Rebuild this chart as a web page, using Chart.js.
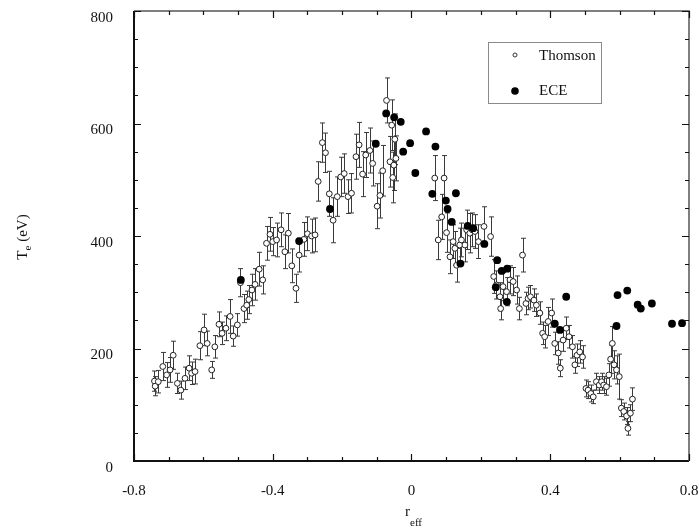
<!DOCTYPE html>
<html>
<head>
<meta charset="utf-8">
<script src="https://cdn.jsdelivr.net/npm/chart.js@4/dist/chart.umd.min.js"></script>
<style>
  html, body { margin: 0; padding: 0; background: #fff; }
  #wrap { width: 699px; height: 529px; }
</style>
</head>
<body>
<div id="wrap"><canvas id="te" width="699" height="529"></canvas></div>
<script>
// Thomson scattering profile: r_eff, Te (eV), error half-width (eV)
const thomsonR = [
  -0.741, -0.739, -0.730, -0.717, -0.706, -0.696, -0.687, -0.675, -0.665, -0.653,
  -0.641, -0.634, -0.624, -0.610, -0.598, -0.589, -0.576, -0.567, -0.555, -0.546,
  -0.535, -0.523, -0.514, -0.502, -0.493, -0.483, -0.475, -0.469, -0.460, -0.451,
  -0.439, -0.429, -0.418, -0.408, -0.400, -0.389, -0.376, -0.365, -0.355, -0.345,
  -0.333, -0.324, -0.310, -0.300, -0.288, -0.278, -0.269, -0.257, -0.248, -0.237,
  -0.226, -0.214, -0.204, -0.194, -0.183, -0.173, -0.160, -0.151, -0.141, -0.132,
  -0.120, -0.112, -0.099, -0.091, -0.083, -0.072, -0.062, -0.057, -0.054, -0.051,
  -0.048, -0.045,
  0.067, 0.077, 0.087, 0.094, 0.101, 0.111, 0.120, 0.125, 0.130, 0.139,
  0.144, 0.154, 0.159, 0.168, 0.175, 0.183, 0.193, 0.209, 0.228, 0.237,
  0.245, 0.255, 0.257, 0.264, 0.274, 0.284, 0.293, 0.303, 0.311, 0.320,
  0.330, 0.336, 0.343, 0.353, 0.360, 0.370, 0.378, 0.384, 0.394, 0.404,
  0.413, 0.423, 0.429, 0.437, 0.446, 0.454, 0.464, 0.471, 0.477, 0.485,
  0.493, 0.503, 0.509, 0.517, 0.524, 0.533, 0.541, 0.548, 0.554, 0.562,
  0.569, 0.574, 0.579, 0.584, 0.591, 0.599, 0.605, 0.612, 0.620, 0.624,
  0.631, 0.637
];
const thomsonTe = [
  142, 133, 141, 168, 153, 162, 188, 138, 126, 147,
  165, 156, 159, 205, 233, 209, 162, 203, 243, 227,
  236, 257, 222, 242, 317, 271, 277, 287, 304, 314,
  341, 322, 387, 403, 390, 393, 411, 372, 405, 347,
  307, 366, 394, 404, 400, 402, 497, 566, 548, 475,
  428, 470, 505, 511, 470, 476, 541, 562, 510, 544,
  552, 529, 453, 472, 516, 641, 532, 597, 504, 526,
  572, 538,
  503, 393, 434, 503, 406, 363, 390, 378, 348, 384,
  393, 384, 411, 405, 411, 408, 390, 417, 399, 328,
  313, 292, 271, 310, 301, 322, 319, 304, 271, 366,
  280, 289, 292, 286, 277, 263, 227, 221, 248, 263,
  209, 192, 165, 215, 236, 221, 203, 171, 188, 194,
  185, 129, 126, 120, 114, 141, 135, 141, 135, 132,
  153, 181, 209, 171, 162, 150, 94, 88, 80, 58,
  85, 110
];
const thomsonErr = [
  18, 17, 20, 25, 22, 22, 25, 18, 16, 20,
  22, 20, 22, 25, 28, 22, 15, 20, 22, 20,
  22, 30, 18, 20, 25, 25, 25, 25, 28, 28,
  30, 25, 30, 30, 25, 30, 30, 30, 35, 30,
  25, 30, 30, 30, 30, 30, 35, 35, 35, 40,
  40, 35, 35, 35, 30, 35, 40, 40, 40, 40,
  40, 40, 40, 40, 45, 40, 45, 45, 45, 45,
  45, 40,
  40, 35, 40, 40, 35, 30, 30, 30, 30, 30,
  30, 30, 35, 35, 30, 30, 30, 35, 35, 30,
  25, 25, 20, 25, 25, 25, 25, 25, 20, 30,
  20, 20, 20, 20, 20, 20, 20, 20, 25, 25,
  20, 20, 15, 20, 20, 20, 20, 15, 20, 20,
  20, 15, 15, 15, 12, 15, 15, 15, 15, 15,
  20, 25, 30, 25, 25, 40, 15, 15, 15, 12,
  15, 20
];

// ECE channels: r_eff, Te (eV)
const eceR = [
  -0.492, -0.324, -0.235, -0.103, -0.073, -0.050, -0.031, -0.024, -0.004, 0.011,
  0.042, 0.060, 0.069, 0.099, 0.104, 0.116, 0.128, 0.141, 0.162, 0.178,
  0.210, 0.243, 0.247, 0.260, 0.275, 0.276, 0.413, 0.428, 0.446, 0.591,
  0.594, 0.622, 0.652, 0.661, 0.693, 0.751, 0.780
];
const eceTe = [
  322, 391, 448, 564, 618, 611, 603, 550, 565, 512,
  586, 475, 559, 463, 448, 425, 476, 351, 418, 414,
  386, 309, 357, 338, 283, 342, 244, 233, 292, 240,
  295, 303, 278, 271, 280, 244, 245
];

const xTicks = [-0.8, -0.4, 0, 0.4, 0.8];
const yTicks = [0, 200, 400, 600, 800];
const xMinorStep = 0.1;
const yMinorStep = 50;

const serif = '"Liberation Serif", "DejaVu Serif", serif';

// keep the plot box fixed: no extra room reserved for overhanging tick labels
function fixScale(s, size) {
  if (s.isHorizontal()) s.height = size; else s.width = size;
  s.paddingLeft = 0; s.paddingRight = 0; s.paddingTop = 0; s.paddingBottom = 0;
}

// frame with inward ticks on all sides, error bars, axis titles and legend box
const plotDecor = {
  id: 'plotDecor',
  beforeDatasetsDraw(chart) {
    const xs = chart.scales.x, ys = chart.scales.y, ctx = chart.ctx;
    ctx.save();
    ctx.strokeStyle = '#3a3a3a';
    ctx.lineWidth = 1;
    for (let i = 0; i < thomsonR.length; i++) {
      const px = Math.round(xs.getPixelForValue(thomsonR[i])) + 0.5;
      const top = ys.getPixelForValue(thomsonTe[i] + thomsonErr[i]);
      const bot = ys.getPixelForValue(thomsonTe[i] - thomsonErr[i]);
      ctx.beginPath();
      ctx.moveTo(px, top); ctx.lineTo(px, bot);
      ctx.moveTo(px - 2.5, top); ctx.lineTo(px + 2.5, top);
      ctx.moveTo(px - 2.5, bot); ctx.lineTo(px + 2.5, bot);
      ctx.stroke();
    }
    ctx.restore();
  },
  afterDraw(chart) {
    const xs = chart.scales.x, ys = chart.scales.y, ctx = chart.ctx;
    const a = chart.chartArea;
    ctx.save();

    // axes box
    ctx.strokeStyle = '#111';
    ctx.lineWidth = 2;
    ctx.beginPath();
    ctx.moveTo(a.left, a.top); ctx.lineTo(a.left, a.bottom); ctx.lineTo(a.right, a.bottom);
    ctx.stroke();
    ctx.strokeStyle = '#555';
    ctx.lineWidth = 1.5;
    ctx.beginPath();
    ctx.moveTo(a.left, a.top); ctx.lineTo(a.right, a.top); ctx.lineTo(a.right, a.bottom);
    ctx.stroke();

    // inward tick marks
    ctx.strokeStyle = '#111';
    ctx.lineWidth = 1.2;
    ctx.beginPath();
    for (let v = xs.min; v <= xs.max + 1e-9; v += xMinorStep) {
      const major = xTicks.some(t => Math.abs(t - v) < 1e-6);
      const len = major ? 7 : 4;
      const px = Math.round(xs.getPixelForValue(v)) + 0.5;
      ctx.moveTo(px, a.bottom); ctx.lineTo(px, a.bottom - len);
      ctx.moveTo(px, a.top); ctx.lineTo(px, a.top + len);
    }
    for (let v = ys.min; v <= ys.max + 1e-9; v += yMinorStep) {
      const major = yTicks.includes(v);
      const len = major ? 7 : 4;
      const py = Math.round(ys.getPixelForValue(v)) + 0.5;
      ctx.moveTo(a.left, py); ctx.lineTo(a.left + len, py);
      ctx.moveTo(a.right, py); ctx.lineTo(a.right - len, py);
    }
    ctx.stroke();

    // axis titles
    ctx.fillStyle = '#111';
    ctx.textBaseline = 'alphabetic';
    ctx.textAlign = 'left';
    const xt = 405;
    ctx.font = '15px ' + serif;
    const rW = ctx.measureText('r').width;
    ctx.fillText('r', xt, 516);
    ctx.font = '11px ' + serif;
    ctx.fillText('eff', xt + rW, 526);

    ctx.save();
    ctx.translate(27, 237);
    ctx.rotate(-Math.PI / 2);
    ctx.font = '15px ' + serif;
    const tW = ctx.measureText('T').width;
    const restW = ctx.measureText(' (eV)').width;
    ctx.font = '11px ' + serif;
    const eW = ctx.measureText('e').width;
    let tx = -(tW + eW + restW) / 2;
    ctx.font = '15px ' + serif;
    ctx.fillText('T', tx, 0);
    ctx.font = '11px ' + serif;
    ctx.fillText('e', tx + tW, 4);
    ctx.font = '15px ' + serif;
    ctx.fillText(' (eV)', tx + tW + eW, 0);
    ctx.restore();

    // legend box
    ctx.strokeStyle = '#8a8a8a';
    ctx.lineWidth = 1;
    ctx.strokeRect(488.5, 42.5, 113, 61);
    ctx.font = '15px ' + serif;
    ctx.textBaseline = 'middle';
    ctx.fillStyle = '#111';
    ctx.fillText('Thomson', 539, 56);
    ctx.fillText('ECE', 539, 91);
    ctx.beginPath();
    ctx.arc(515, 55, 2, 0, Math.PI * 2);
    ctx.fillStyle = '#fff';
    ctx.fill();
    ctx.strokeStyle = '#333';
    ctx.stroke();
    ctx.beginPath();
    ctx.arc(515, 91, 3.8, 0, Math.PI * 2);
    ctx.fillStyle = '#000';
    ctx.fill();

    ctx.restore();
  }
};

new Chart(document.getElementById('te'), {
  type: 'scatter',
  data: {
    datasets: [
      {
        label: 'Thomson',
        data: thomsonR.map((r, i) => ({ x: r, y: thomsonTe[i] })),
        pointRadius: 2.9,
        pointBackgroundColor: '#fff',
        pointBorderColor: '#222',
        pointBorderWidth: 1,
        order: 2
      },
      {
        label: 'ECE',
        data: eceR.map((r, i) => ({ x: r, y: eceTe[i] })),
        pointRadius: 3.9,
        pointBackgroundColor: '#000',
        pointBorderColor: '#000',
        pointBorderWidth: 0,
        order: 1
      }
    ]
  },
  options: {
    responsive: false,
    animation: false,
    devicePixelRatio: 1,
    layout: { padding: { top: 11, right: 10, left: 0, bottom: 0 } },
    plugins: { legend: { display: false }, tooltip: { enabled: false } },
    scales: {
      x: {
        type: 'linear',
        min: -0.8,
        max: 0.8,
        grid: { display: false, drawTicks: false },
        border: { display: false },
        afterBuildTicks: s => { s.ticks = xTicks.map(v => ({ value: v })); },
        afterFit: s => fixScale(s, 68),
        ticks: {
          padding: 21,
          color: '#111',
          font: { family: serif, size: 15 },
          maxRotation: 0,
          callback: v => String(v)
        }
      },
      y: {
        type: 'linear',
        min: 0,
        max: 800,
        grid: { display: false, drawTicks: false },
        border: { display: false },
        afterBuildTicks: s => { s.ticks = yTicks.map(v => ({ value: v })); },
        afterFit: s => fixScale(s, 134),
        ticks: {
          padding: 21,
          labelOffset: 7,
          color: '#111',
          font: { family: serif, size: 15 },
          callback: v => String(v)
        }
      }
    }
  },
  plugins: [plotDecor]
});
</script>
</body>
</html>
